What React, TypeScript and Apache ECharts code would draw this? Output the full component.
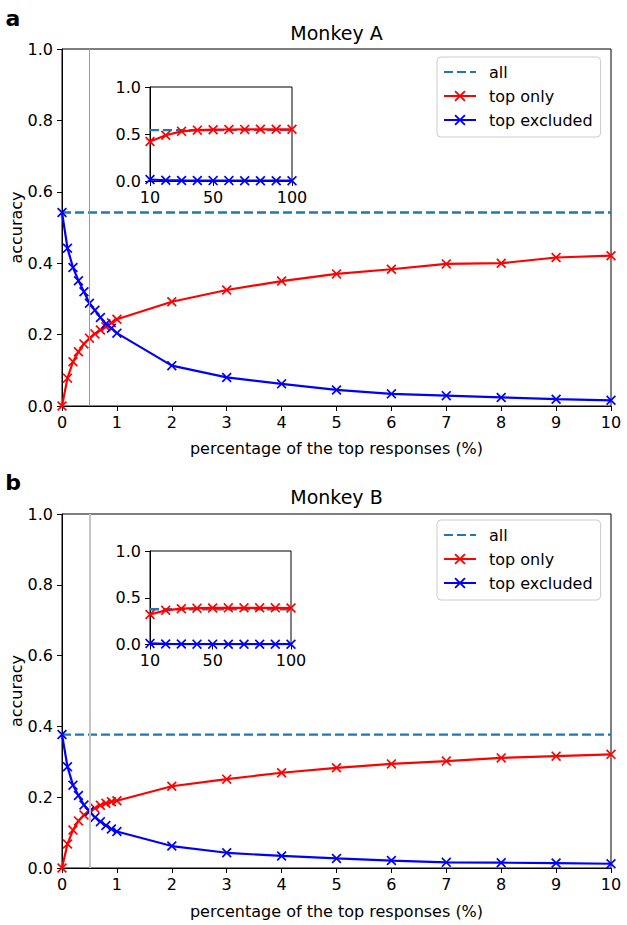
import React, { useEffect, useRef } from "react";
import * as echarts from "echarts";

// ---- data ----
const xMain = [0, 0.1, 0.2, 0.3, 0.4, 0.5, 0.6, 0.7, 0.8, 0.9, 1, 2, 3, 4, 5, 6, 7, 8, 9, 10];
const xInset = [10, 20, 30, 40, 50, 60, 70, 80, 90, 100];
const xTicksInset = [10, 50, 100];

const aAll = 0.542;
const aTopOnly = [0, 0.078, 0.124, 0.152, 0.174, 0.19, 0.202, 0.213, 0.222, 0.233, 0.243, 0.292, 0.325, 0.35, 0.37, 0.383, 0.398, 0.4, 0.416, 0.421];
const aTopExcluded = [0.542, 0.442, 0.388, 0.351, 0.32, 0.288, 0.268, 0.248, 0.23, 0.218, 0.204, 0.113, 0.08, 0.062, 0.045, 0.034, 0.029, 0.024, 0.019, 0.016];
const aInsetTopOnly = [0.421, 0.487, 0.528, 0.541, 0.546, 0.548, 0.549, 0.55, 0.55, 0.55];
const aInsetTopExcluded = [0.016, 0.008, 0.006, 0.005, 0.004, 0.004, 0.003, 0.003, 0.003, 0.003];

const bAll = 0.377;
const bTopOnly = [0, 0.068, 0.107, 0.133, 0.15, 0.159, 0.169, 0.177, 0.183, 0.187, 0.19, 0.231, 0.251, 0.269, 0.283, 0.294, 0.302, 0.311, 0.316, 0.321];
const bTopExcluded = [0.377, 0.286, 0.234, 0.205, 0.178, 0.16, 0.143, 0.131, 0.12, 0.11, 0.103, 0.062, 0.043, 0.034, 0.027, 0.021, 0.016, 0.015, 0.014, 0.012];
const bInsetTopOnly = [0.321, 0.365, 0.383, 0.389, 0.391, 0.392, 0.392, 0.392, 0.392, 0.39];
const bInsetTopExcluded = [0.012, 0.006, 0.005, 0.004, 0.004, 0.003, 0.003, 0.003, 0.003, 0.003];

const legendNames = ["all", "top only", "top excluded"];
const xLabel = "percentage of the top responses (%)";
const yLabel = "accuracy";

const FONT = "DejaVu Sans";
const XMARK = "path://M0,1.2L1.2,0L5,3.8L8.8,0L10,1.2L6.2,5L10,8.8L8.8,10L5,6.2L1.2,10L0,8.8L3.8,5Z";
const RED = "#ff0000";
const BLUE = "#0000ff";
const DASH = "#1f77b4";

const zip = (xs: number[], ys: number[]) => xs.map((x, i) => [x, ys[i]]);

function axisCommon() {
  return {
    axisLine: { show: true, onZero: false, lineStyle: { color: "#000", width: 1 } },
    axisTick: { show: true, inside: false, length: 5, lineStyle: { color: "#000", width: 1 } },
    splitLine: { show: false },
  };
}

export default function App() {
  const ref = useRef<HTMLDivElement>(null);
  useEffect(() => {
    if (!ref.current) return;
    const chart = echarts.init(ref.current, undefined, { renderer: "svg" });

    const grids = [
      { left: 62, top: 49, width: 549, height: 357 },
      { left: 150, top: 87, width: 142, height: 94 },
      { left: 62, top: 514, width: 549, height: 354 },
      { left: 150, top: 551, width: 141, height: 93.5 },
    ].map((g) => ({
      ...g,
      show: true,
      borderColor: "#000",
      borderWidth: 1,
      backgroundColor: "#fff",
      containLabel: false,
      outerBoundsMode: "none",
    }));

    const mainX = (gi: number) => ({
      gridIndex: gi,
      type: "value",
      min: 0,
      max: 10,
      interval: 1,
      ...axisCommon(),
      axisLabel: { color: "#000", fontSize: 16, fontFamily: FONT, margin: 8 },
    });
    const mainY = (gi: number) => ({
      gridIndex: gi,
      type: "value",
      min: 0,
      max: 1,
      interval: 0.2,
      ...axisCommon(),
      axisLabel: { color: "#000", fontSize: 16, fontFamily: FONT, margin: 9, formatter: (v: number) => v.toFixed(1) },
    });
    const insetX = (gi: number) => ({
      gridIndex: gi,
      type: "value",
      min: 10,
      max: 100,
      ...axisCommon(),
      axisTick: { show: true, inside: false, length: 5, lineStyle: { color: "#000" }, customValues: xTicksInset },
      axisLabel: { color: "#000", fontSize: 16, fontFamily: FONT, margin: 8, customValues: xTicksInset },
    });
    const insetY = (gi: number) => ({
      gridIndex: gi,
      type: "value",
      min: 0,
      max: 1,
      interval: 0.5,
      ...axisCommon(),
      axisLabel: { color: "#000", fontSize: 16, fontFamily: FONT, margin: 9, formatter: (v: number) => v.toFixed(1) },
    });

    const panelSeries = (
      ai: number,
      xmin: number,
      xmax: number,
      allV: number,
      xs: number[],
      red: number[],
      blue: number[],
      vline: any
    ) => [
      {
        name: "all",
        type: "line",
        xAxisIndex: ai,
        yAxisIndex: ai,
        data: [[xmin, allV], [xmax, allV]],
        symbol: "none",
        color: DASH,
        lineStyle: { color: DASH, width: 2.3, type: [9, 4] },
        markLine: vline,
        z: 2,
      },
      {
        name: "top only",
        type: "line",
        xAxisIndex: ai,
        yAxisIndex: ai,
        data: zip(xs, red),
        symbol: XMARK,
        symbolSize: 10,
        showAllSymbol: true,
        color: RED,
        itemStyle: { color: RED },
        lineStyle: { color: RED, width: 2.2 },
        z: 3,
      },
      {
        name: "top excluded",
        type: "line",
        xAxisIndex: ai,
        yAxisIndex: ai,
        data: zip(xs, blue),
        symbol: XMARK,
        symbolSize: 10,
        showAllSymbol: true,
        color: BLUE,
        itemStyle: { color: BLUE },
        lineStyle: { color: BLUE, width: 2.2 },
        z: 4,
      },
    ];

    const vline = (color: string, width: number) => ({
      silent: true,
      symbol: "none",
      label: { show: false },
      lineStyle: { color, width, type: "solid" },
      data: [{ xAxis: 0.5 }],
      animation: false,
    });

    const legend = (top: number) => ({
      show: true,
      orient: "vertical",
      left: 437,
      top,
      data: [
        { name: legendNames[0], itemStyle: { opacity: 0 } },
        { name: legendNames[1] },
        { name: legendNames[2] },
      ],
      itemWidth: 32,
      itemHeight: 14,
      itemGap: 8,
      selectedMode: false,
      textStyle: { fontSize: 16, fontFamily: FONT, color: "#000", padding: [0, 0, 0, 8] },
      borderColor: "#cccccc",
      borderWidth: 1,
      borderRadius: 4,
      padding: [7, 8, 9, 6],
      backgroundColor: "rgba(255,255,255,0.8)",
    });

    const text = (t: string, x: number, y: number, font: string, rot = 0) => ({
      type: "text",
      x,
      y,
      rotation: rot,
      style: { text: t, font, fill: "#000", align: "center", verticalAlign: "middle" },
    });

    chart.setOption({
      animation: false,
      backgroundColor: "#fff",
      grid: grids,
      xAxis: [mainX(0), insetX(1), mainX(2), insetX(3)],
      yAxis: [mainY(0), insetY(1), mainY(2), insetY(3)],
      legend: [legend(57), legend(520)],
      series: [
        ...panelSeries(0, 0, 10, aAll, xMain, aTopOnly, aTopExcluded, vline("#999999", 1)),
        ...panelSeries(1, 10, 100, aAll, xInset, aInsetTopOnly, aInsetTopExcluded, undefined),
        ...panelSeries(2, 0, 10, bAll, xMain, bTopOnly, bTopExcluded, vline("#c4c4c4", 2)),
        ...panelSeries(3, 10, 100, bAll, xInset, bInsetTopOnly, bInsetTopExcluded, undefined),
      ],
      graphic: [
        text("a", 13, 18, `bold 22px '${FONT}'`),
        text("Monkey A", 336.5, 33, `19px '${FONT}'`),
        text(yLabel, 16, 227.5, `16px '${FONT}'`, Math.PI / 2),
        text(xLabel, 336.5, 448, `16px '${FONT}'`),
        text("b", 13, 482, `bold 22px '${FONT}'`),
        text("Monkey B", 336.5, 497, `19px '${FONT}'`),
        text(yLabel, 16, 691, `16px '${FONT}'`, Math.PI / 2),
        text(xLabel, 336.5, 911, `16px '${FONT}'`),
      ],
    });
    return () => chart.dispose();
  }, []);
  return <div ref={ref} style={{ position: "absolute", left: 0, top: 0, width: 627, height: 925 }} />;
}
